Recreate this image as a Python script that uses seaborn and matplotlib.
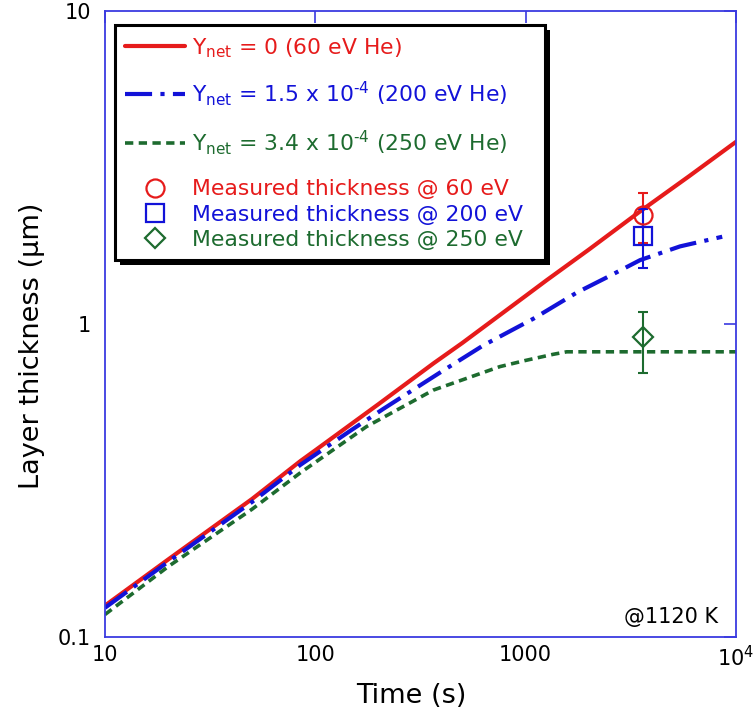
import matplotlib
matplotlib.use("Agg")
import matplotlib.pyplot as plt
from matplotlib.patches import Rectangle
from matplotlib.ticker import NullLocator
import seaborn as sns

# Model curves: layer thickness (um) versus exposure time (s)
time_y0 = [10, 20, 50, 85, 100, 200, 364, 500, 1000, 1258, 2000, 3500, 6000, 10000]
thick_y0 = [0.126, 0.177, 0.276, 0.365, 0.395, 0.555, 0.748, 0.87, 1.23, 1.38, 1.73, 2.29, 2.97, 3.82]

time_y15 = [10, 20, 50, 85, 146, 210, 392, 630, 1089, 1750, 2437, 3500, 5420, 8600]
thick_y15 = [0.124, 0.174, 0.27, 0.355, 0.455, 0.535, 0.700, 0.855, 1.04, 1.26, 1.41, 1.60, 1.77, 1.90]

time_y34 = [10, 20, 50, 85, 175, 364, 755, 1000, 1350, 1567, 3000, 10000]
thick_y34 = [0.118, 0.168, 0.256, 0.335, 0.47, 0.615, 0.731, 0.765, 0.80, 0.815, 0.815, 0.815]

# Measured thickness after ~1 h of exposure
meas_time = [3600, 3600, 3600]
meas_thick = [2.23, 1.91, 0.907]
meas_err_low = [0.42, 0.40, 0.208]
meas_err_high = [0.40, 0.42, 0.188]

model_labels = [
    "Y$_{net}$ = 0 (60 eV He)",
    "Y$_{net}$ = 1.5 x 10$^{\u20104}$ (200 eV He)",
    "Y$_{net}$ = 3.4 x 10$^{\u20104}$ (250 eV He)",
]
meas_labels = [
    "Measured thickness @ 60 eV",
    "Measured thickness @ 200 eV",
    "Measured thickness @ 250 eV",
]
x_ticks = [10, 100, 1000, 10000]
x_ticklabels = ["10", "100", "1000", "10$^4$"]
y_ticks = [0.1, 1, 10]
y_ticklabels = ["0.1", "1", "10"]

RED = "#e61b1b"
BLUE = "#1212d8"
GREEN = "#1d6b2f"
AXIS_BLUE = "#3a3ae0"
colors = [RED, BLUE, GREEN]

sns.set_theme(style="white")
plt.rcParams["font.family"] = ["DejaVu Sans"]
plt.rcParams["mathtext.default"] = "regular"

fig = plt.figure(figsize=(7.55, 7.21), dpi=100)
ax = fig.add_axes([105 / 755, 1 - 637 / 721, 631 / 755, 626 / 721])
ax.set_xscale("log")
ax.set_yscale("log")

styles = [
    dict(lw=3.0, linestyle="-"),
    dict(lw=3.0, linestyle=(0, (6.5, 2.0, 1.0, 2.0))),
    dict(lw=2.6, linestyle=(0, (2.3, 1.5))),
]
series = [(time_y0, thick_y0), (time_y15, thick_y15), (time_y34, thick_y34)]
line_handles = []
for (tx, ty), c, st, lab in zip(series, colors, styles, model_labels):
    sns.lineplot(x=tx, y=ty, ax=ax, color=c, label=lab, legend=False, **st)
    line_handles.append(ax.lines[-1])

# Measured points with error bars
markers = [("o", 13), ("s", 13.5), ("D", 10.5)]
marker_handles = []
for i, c in enumerate(colors):
    ax.errorbar(meas_time[i], meas_thick[i],
                yerr=[[meas_err_low[i]], [meas_err_high[i]]],
                fmt="none", ecolor=c, elinewidth=1.5, capsize=3.6, capthick=1.5,
                zorder=3)
    m, ms = markers[i]
    h, = ax.plot([meas_time[i]], [meas_thick[i]], linestyle="none", marker=m,
                 markersize=ms, markerfacecolor="none", markeredgecolor=c,
                 markeredgewidth=1.6, label=meas_labels[i], zorder=4)
    marker_handles.append(h)

ax.set_xlim(10, 10000)
ax.set_ylim(0.1, 10)
ax.set_xticks(x_ticks)
ax.set_xticklabels(x_ticklabels)
ax.set_yticks(y_ticks)
ax.set_yticklabels(y_ticklabels)
ax.xaxis.set_minor_locator(NullLocator())
ax.yaxis.set_minor_locator(NullLocator())
ax.tick_params(which="major", direction="in", length=8.6, width=1.2,
               color=AXIS_BLUE, top=True, right=True, labelsize=15,
               labelcolor="black")
ax.tick_params(axis="x", pad=6)
ax.tick_params(axis="y", pad=10)
for sp in ax.spines.values():
    sp.set_color(AXIS_BLUE)
    sp.set_linewidth(1.3)

ax.set_xlabel("Time (s)", fontsize=19.5, color="black")
ax.set_ylabel("Layer thickness (\u00b5m)", fontsize=19.5, color="black")
ax.xaxis.set_label_coords(0.485, -0.073)
ax.yaxis.set_label_coords(-0.095, 0.465)

ax.text(0.971, 0.022, "@1120 K", transform=ax.transAxes, ha="right",
        va="baseline", fontsize=15, color="black")

# Legend box with a solid drop shadow
bx, by, bw, bh = 0.016, 0.602, 0.681, 0.376
ax.add_patch(Rectangle((bx + 0.008, by - 0.008), bw, bh, transform=ax.transAxes,
                       facecolor="black", edgecolor="none", zorder=5))
ax.add_patch(Rectangle((bx, by), bw, bh, transform=ax.transAxes,
                       facecolor="white", edgecolor="black", lw=2.2, zorder=5.1))

common = dict(frameon=False, fontsize=15.75, handlelength=2.75,
              handletextpad=0.3, borderpad=0, borderaxespad=0, loc="upper left")
leg1 = ax.legend(handles=line_handles, labels=model_labels,
                 bbox_to_anchor=(0.0317, 0.960), labelspacing=0.9, **common)
for t, c in zip(leg1.get_texts(), colors):
    t.set_color(c)
leg1.set_zorder(6)
ax.add_artist(leg1)
leg2 = ax.legend(handles=marker_handles, labels=meas_labels,
                 bbox_to_anchor=(0.0317, 0.731), labelspacing=0.24, **common)
for t, c in zip(leg2.get_texts(), colors):
    t.set_color(c)
leg2.set_zorder(6)

fig.savefig("out.png", dpi=100)
